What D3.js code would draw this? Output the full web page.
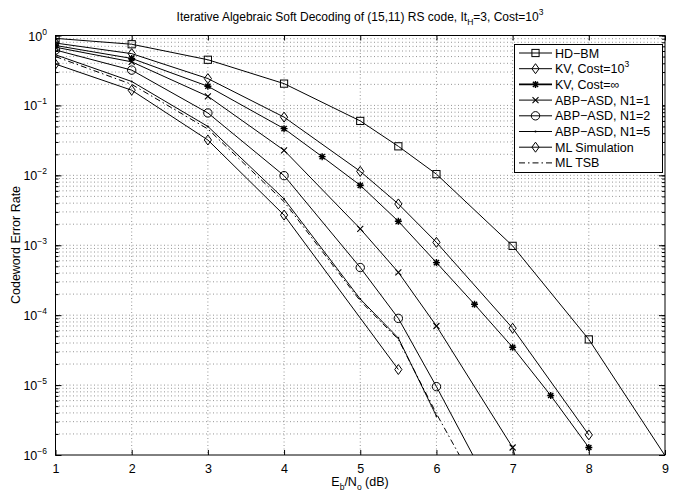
<!DOCTYPE html>
<html><head><meta charset="utf-8">
<script src="https://cdn.jsdelivr.net/npm/d3@7"></script>
<style>
body{margin:0;background:#fff;}
svg{font-family:"Liberation Sans",Arial,Helvetica,sans-serif;}
</style></head>
<body>
<svg id="chart" width="679" height="491"></svg>
<script>
const xTicks = [1,2,3,4,5,6,7,8,9];
const yDecades = [0,-1,-2,-3,-4,-5,-6];

const xHD = [1,2,3,4,5,5.5,6,7,8,9];
const yHD = [0.91,0.75,0.45,0.205,0.06,0.026,0.0104,0.00098,4.5e-5,9.8e-7];
const xKV3 = [1,2,3,4,5,5.5,6,7,8];
const yKV3 = [0.78,0.55,0.242,0.068,0.0114,0.0039,0.0011,6.5e-5,1.94e-6];
const xKVinf = [1,2,3,4,4.5,5,5.5,6,6.5,7,7.5,8];
const yKVinf = [0.72,0.47,0.188,0.0465,0.0185,0.0072,0.0022,5.65e-4,1.43e-4,3.47e-5,7.1e-6,1.28e-6];
const xN1 = [1,2,3,4,5,5.5,6,7,7.5];
const yN1 = [0.68,0.42,0.135,0.0228,0.00172,4.1e-4,7e-5,1.28e-6,1.5e-8];
const xN2 = [1,2,3,4,5,5.5,6,6.5];
const yN2 = [0.62,0.32,0.078,0.0099,4.8e-4,9e-5,9.5e-6,9e-7];
const xN5 = [1,2,3,4,5,5.5,6];
const yN5 = [0.53,0.22,0.05,0.0046,1.7e-4,4.7e-5,3.6e-6];
const xML = [1,2,3,4,5.5];
const yML = [0.39,0.165,0.032,0.0027,1.67e-5];
const xTSB = [1,2,3,4,5,5.5,6,6.3];
const yTSB = [0.5,0.2,0.046,0.0042,1.6e-4,4.5e-5,3.9e-6,1e-6];

const seriesNames = ["HD\u2212BM","KV, Cost=10","KV, Cost=\u221E","ABP\u2212ASD, N1=1","ABP\u2212ASD, N1=2","ABP\u2212ASD, N1=5","ML Simulation","ML TSB"];
const seriesX = [xHD,xKV3,xKVinf,xN1,xN2,xN5,xML,xTSB];
const seriesY = [yHD,yKV3,yKVinf,yN1,yN2,yN5,yML,yTSB];
const markers = ["square","diamond","star","x","circle","dot","diamond","none"];
const dashes = [null,null,null,null,null,null,null,"6,3,1.5,3"];

const svg = d3.select("#chart");
const L=55.5, R=665, T=35.5, B=455;
const x = d3.scaleLinear().domain([1,9]).range([L,R]);
const y = d3.scaleLog().domain([1e-6,1]).range([B,T]);

// grid
const grid = svg.append("g");
const minor = [];
for (let e=-6;e<0;e++) for (let m=1;m<=9;m++) minor.push(m*Math.pow(10,e));
minor.push(1);
minor.forEach(v=>{
  if (v<=1e-6*1.0001 || v>=0.9999) return;
  grid.append("line").attr("x1",L).attr("x2",R).attr("y1",y(v)).attr("y2",y(v))
    .attr("stroke","#7a7a7a").attr("stroke-width",0.8).attr("stroke-dasharray","1,2.5");
});
xTicks.forEach(t=>{
  if (t===1||t===9) return;
  grid.append("line").attr("x1",x(t)).attr("x2",x(t)).attr("y1",T).attr("y2",B)
    .attr("stroke","#7a7a7a").attr("stroke-width",0.8).attr("stroke-dasharray","1,2.5");
});

// axes
const xAxis = d3.axisBottom(x).tickValues(xTicks).tickSize(-5).tickPadding(9).tickFormat(d3.format("d"));
const gx = svg.append("g").attr("transform",`translate(0,${B})`).call(xAxis);
gx.select(".domain").remove();
gx.selectAll("text").attr("font-size",12.5).attr("fill","#000").attr("font-family","Liberation Sans, Arial");
gx.selectAll("line").attr("stroke","#000");
const gxTop = svg.append("g").attr("transform",`translate(0,${T})`).call(d3.axisTop(x).tickValues(xTicks).tickSize(-5).tickFormat(""));
gxTop.select(".domain").remove();

const yMajor = yDecades.map(e=>Math.pow(10,e));
const gy = svg.append("g").attr("transform",`translate(${L},0)`)
  .call(d3.axisLeft(y).tickValues(minor.filter(v=>v>=1e-6*0.999)).tickSize(-3).tickFormat(""));
gy.select(".domain").remove();
const gy2 = svg.append("g").attr("transform",`translate(${R},0)`)
  .call(d3.axisRight(y).tickValues(minor.filter(v=>v>=1e-6*0.999)).tickSize(-3).tickFormat(""));
gy2.select(".domain").remove();
svg.append("g").attr("transform",`translate(${L},0)`).call(d3.axisLeft(y).tickValues(yMajor).tickSize(-6).tickFormat("")).select(".domain").remove();
svg.append("g").attr("transform",`translate(${R},0)`).call(d3.axisRight(y).tickValues(yMajor).tickSize(-6).tickFormat("")).select(".domain").remove();
svg.selectAll(".tick line").attr("stroke","#000");

yDecades.forEach(e=>{
  const t = svg.append("text").attr("x",47).attr("y",y(Math.pow(10,e))+5).attr("text-anchor","end")
    .attr("font-size",12.5).attr("fill","#000");
  t.append("tspan").text("10");
  t.append("tspan").attr("dy",-6).attr("font-size",8.5).text(String(e).replace("-","\u2212"));
});

svg.append("rect").attr("x",L).attr("y",T).attr("width",R-L).attr("height",B-T)
  .attr("fill","none").attr("stroke","#000").attr("stroke-width",1);

// curves
const plot = svg.append("g");
svg.append("clipPath").attr("id","clip").append("rect").attr("x",L).attr("y",T).attr("width",R-L).attr("height",B-T);
plot.attr("clip-path","url(#clip)");
const line = d3.line().x(d=>x(d[0])).y(d=>y(Math.max(d[1],1e-9)));

function drawMarker(g, type, cx, cy){
  const s=3.6;
  if (type==="square") g.append("rect").attr("x",cx-s).attr("y",cy-s).attr("width",2*s).attr("height",2*s).attr("fill","none").attr("stroke","#000").attr("stroke-width",1);
  else if (type==="diamond") g.append("path").attr("d",`M${cx},${cy-5}L${cx+3.6},${cy}L${cx},${cy+5}L${cx-3.6},${cy}Z`).attr("fill","none").attr("stroke","#000").attr("stroke-width",1);
  else if (type==="circle") g.append("circle").attr("cx",cx).attr("cy",cy).attr("r",4.2).attr("fill","none").attr("stroke","#000").attr("stroke-width",1);
  else if (type==="x") g.append("path").attr("d",`M${cx-3},${cy-3}L${cx+3},${cy+3}M${cx-3},${cy+3}L${cx+3},${cy-3}`).attr("stroke","#000").attr("stroke-width",1.1);
  else if (type==="star") g.append("path").attr("d",`M${cx-3.5},${cy}L${cx+3.5},${cy}M${cx},${cy-3.5}L${cx},${cy+3.5}M${cx-2.6},${cy-2.6}L${cx+2.6},${cy+2.6}M${cx-2.6},${cy+2.6}L${cx+2.6},${cy-2.6}`).attr("stroke","#000").attr("stroke-width",1.4);
  else if (type==="dot") g.append("circle").attr("cx",cx).attr("cy",cy).attr("r",1).attr("fill","#000");
}

seriesX.forEach((xs,i)=>{
  const pts = xs.map((v,j)=>[v,seriesY[i][j]]);
  plot.append("path").datum(pts).attr("d",line).attr("fill","none").attr("stroke","#000")
    .attr("stroke-width",1).attr("stroke-dasharray",dashes[i]);
  pts.forEach(p=>{ if (p[1]>=1e-6 && p[1]<=1) drawMarker(plot, markers[i], x(p[0]), y(p[1])); });
});

// legend
const lg = svg.append("g");
lg.append("rect").attr("x",514.5).attr("y",44.5).attr("width",148).attr("height",128).attr("fill","#fff").attr("stroke","#000").attr("stroke-width",1);
seriesNames.forEach((n,i)=>{
  const ly = 53+i*15.7;
  lg.append("line").attr("x1",519).attr("x2",552).attr("y1",ly).attr("y2",ly).attr("stroke","#000")
    .attr("stroke-width",i===2?1.6:1).attr("stroke-dasharray",dashes[i]);
  drawMarker(lg, markers[i], 535.5, ly);
  const t = lg.append("text").attr("x",555).attr("y",ly+4.5).attr("font-size",12.5).attr("fill","#000").text(n);
  if (i===1) t.append("tspan").attr("dy",-6).attr("font-size",8.5).text("3");
});

// title
const tt = svg.append("text").attr("x",360).attr("y",21).attr("text-anchor","middle").attr("font-size",12).attr("fill","#000");
tt.append("tspan").text("Iterative Algebraic Soft Decoding of (15,11) RS code, It");
tt.append("tspan").attr("dy",4).attr("font-size",8.5).text("H");
tt.append("tspan").attr("dy",-4).text("=3, Cost=10");
tt.append("tspan").attr("dy",-6).attr("font-size",8.5).text("3");

// x label
const xl = svg.append("text").attr("x",360).attr("y",486).attr("text-anchor","middle").attr("font-size",12.5).attr("fill","#000");
xl.append("tspan").text("E");
xl.append("tspan").attr("dy",4).attr("font-size",8.5).text("b");
xl.append("tspan").attr("dy",-4).text("/N");
xl.append("tspan").attr("dy",4).attr("font-size",8.5).text("o");
xl.append("tspan").attr("dy",-4).text(" (dB)");

// y label
svg.append("text").attr("transform","translate(20,245) rotate(-90)").attr("text-anchor","middle")
  .attr("font-size",12.5).attr("fill","#000").text("Codeword Error Rate");
</script>
</body></html>
